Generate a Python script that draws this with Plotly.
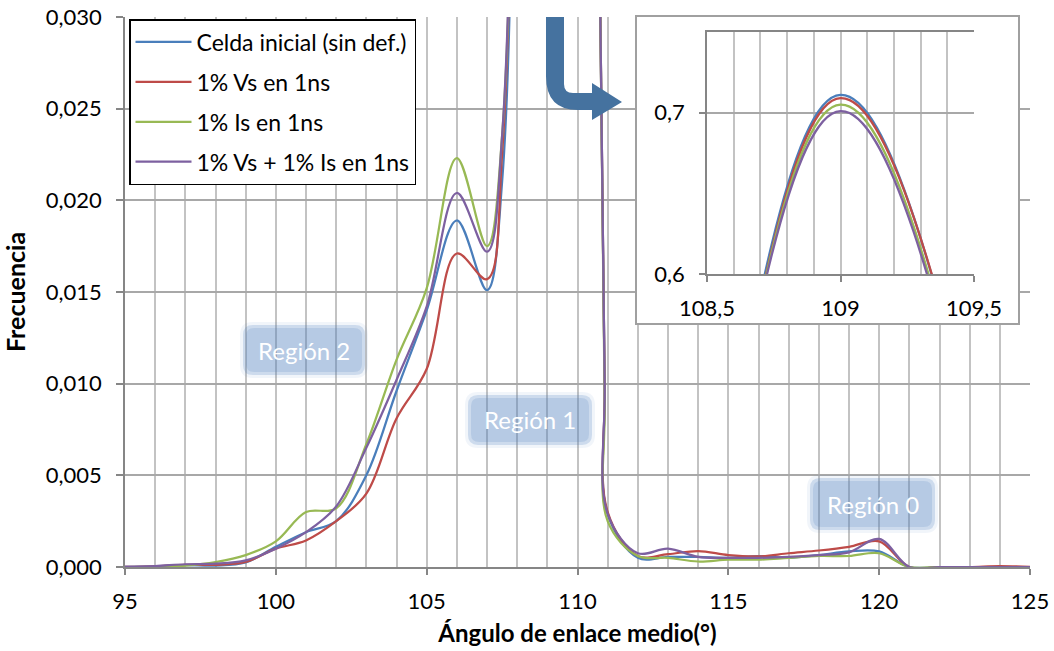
import plotly.graph_objects as go

# Mean bond angle (degrees) and frequency of each simulated cell
angle = [95, 96, 97, 98, 99, 100, 101, 102, 103, 104, 105, 106, 107, 107.5, 108,
         109, 110, 110.75, 110.9, 111, 112, 113, 114, 115, 116, 117, 118, 119, 120,
         121, 122, 123, 124, 125]

celda_inicial = [0.0, 0.00004, 0.0001, 0.00008, 0.00025, 0.0011, 0.0019, 0.0025, 0.0050,
                 0.0096, 0.0140, 0.0189, 0.0151, 0.0210, 0.075, 0.711, 0.220, 0.031,
                 0.010, 0.0029, 0.0005, 0.00055, 0.00055, 0.0005, 0.0006, 0.0005,
                 0.00065, 0.00085, 0.00085, 0.0, 0.0, 0.0, 0.0, 0.0]
vs_1 = [0.0, 0.00004, 0.00012, 0.00012, 0.00028, 0.0010, 0.00145, 0.0025, 0.0040,
        0.0081, 0.0108, 0.0171, 0.0157, 0.0225, 0.070, 0.709, 0.226, 0.031,
        0.010, 0.0030, 0.0006, 0.0007, 0.00087, 0.00065, 0.00058, 0.00075,
        0.0009, 0.0011, 0.0014, 0.0, 0.0, 0.0, 0.00005, 0.0]
is_1 = [0.0, 0.0, 0.00008, 0.00027, 0.00065, 0.0014, 0.0030, 0.0032, 0.0067,
        0.0113, 0.0152, 0.0223, 0.0175, 0.0235, 0.078, 0.705, 0.215, 0.031,
        0.009, 0.0025, 0.0006, 0.0005, 0.0003, 0.0004, 0.0004, 0.0005,
        0.0006, 0.0006, 0.00075, 0.0, 0.0, 0.0, 0.0, 0.0]
vs_is_1 = [0.0, 0.00005, 0.00015, 0.00018, 0.00036, 0.0010, 0.0019, 0.0033, 0.0065,
           0.0102, 0.0142, 0.0204, 0.0172, 0.0235, 0.082, 0.701, 0.214, 0.031,
           0.010, 0.0029, 0.00075, 0.0010, 0.00055, 0.0005, 0.0005, 0.00055,
           0.00065, 0.0008, 0.00153, 0.0, 0.0, 0.0, 0.0, 0.0]

series_names = ["Celda inicial (sin def.)", "1% Vs en 1ns", "1% Is en 1ns",
                "1% Vs + 1% Is en 1ns"]
series_values = [celda_inicial, vs_1, is_1, vs_is_1]
series_colors = ["#4a7ebb", "#be4b48", "#98b954", "#7d60a0"]

main_xticks = [95, 100, 105, 110, 115, 120, 125]
main_yticks = [0.0, 0.005, 0.010, 0.015, 0.020, 0.025, 0.030]
zoom_xticks = [108.5, 109, 109.5]
zoom_yticks = [0.6, 0.7]

region_labels = ["Región 2", "Región 1", "Región 0"]

FONT = "Lato"
W, H = 1054, 651
ML, MR, MT, MB = 125, 24, 17, 84
PW, PH = W - ML - MR, H - MT - MB


def fx(px):
    return (px - ML) / PW


def fy(py):
    return (H - MB - py) / PH


fig = go.Figure()

# main curves
for name, vals, col in zip(series_names, series_values, series_colors):
    fig.add_trace(go.Scatter(
        x=angle, y=vals, name=name, mode="lines",
        line=dict(color=col, width=2.25, shape="spline", smoothing=1),
        legendgroup=name, xaxis="x", yaxis="y",
    ))

# white panel that carries the zoomed view
fig.add_trace(go.Scatter(x=[], y=[], xaxis="x2", yaxis="y2", showlegend=False,
                         hoverinfo="skip"))

# zoomed curves around the maximum
for name, vals, col in zip(series_names, series_values, series_colors):
    fig.add_trace(go.Scatter(
        x=angle, y=vals, name=name, mode="lines", showlegend=False,
        line=dict(color=col, width=2.25, shape="spline", smoothing=1),
        legendgroup=name, xaxis="x3", yaxis="y3",
    ))

tick_font = dict(family=FONT, size=22, color="#000000")
axis_grey = "#868686"

fig.update_layout(
    width=W, height=H,
    margin=dict(l=ML, r=MR, t=MT, b=MB, autoexpand=False),
    paper_bgcolor="white", plot_bgcolor="white",
    separators=",.",
    font=dict(family=FONT, size=22, color="#000000"),
    showlegend=True,
    legend=dict(
        x=fx(129), y=fy(19), xanchor="left", yanchor="top",
        bgcolor="white", bordercolor="#000000", borderwidth=1.5,
        font=dict(family=FONT, size=23, color="#000000"),
        tracegroupgap=7, itemwidth=56,
    ),
    xaxis=dict(
        domain=[0, 1], range=[95, 125], tickvals=main_xticks,
        ticks="outside", ticklen=6, tickcolor=axis_grey, tickwidth=1.5,
        showline=True, linecolor=axis_grey, linewidth=2,
        showgrid=True, gridcolor="#c3c3c3", gridwidth=1.5,
        minor=dict(dtick=1, tick0=95, showgrid=True, gridcolor="#c3c3c3",
                   gridwidth=1.5),
        zeroline=False, tickfont=tick_font, ticklabelstandoff=8,
        title=dict(text="<b>Ángulo de enlace medio(°)</b>",
                   font=dict(family=FONT, size=24), standoff=12),
        fixedrange=True, automargin=False,
    ),
    yaxis=dict(
        domain=[0, 1], range=[0, 0.030], tickvals=main_yticks, tickformat=".3f",
        ticks="outside", ticklen=7, tickcolor=axis_grey, tickwidth=1.5,
        showline=True, linecolor=axis_grey, linewidth=1.5,
        showgrid=True, gridcolor="#a8a8a8", gridwidth=1.5,
        zeroline=False, tickfont=tick_font, ticklabelstandoff=10,
        title=dict(text="<b>Frecuencia</b>", font=dict(family=FONT, size=25),
                   standoff=18),
        fixedrange=True, automargin=False,
    ),
    xaxis2=dict(
        domain=[fx(637), fx(1018)], range=[0, 1], anchor="y2",
        showline=True, mirror=True, linecolor="#a0a0a0", linewidth=1.5,
        showgrid=False, zeroline=False, showticklabels=False, ticks="",
        fixedrange=True, automargin=False,
    ),
    yaxis2=dict(
        domain=[fy(323), 1.0], range=[0, 1], anchor="x2",
        showline=True, mirror=True, linecolor="#a0a0a0", linewidth=1.5,
        showgrid=False, zeroline=False, showticklabels=False, ticks="",
        fixedrange=True, automargin=False,
    ),
    xaxis3=dict(
        domain=[fx(707), fx(974)], range=[108.5, 109.5], anchor="y3",
        tickvals=zoom_xticks, ticks="outside", ticklen=6, tickcolor=axis_grey,
        tickwidth=1.5, showline=True, mirror=True, linecolor=axis_grey,
        linewidth=1.5, showgrid=True, gridcolor="#c3c3c3", gridwidth=1.5,
        minor=dict(dtick=0.1, tick0=108.5, showgrid=True, gridcolor="#c3c3c3",
                   gridwidth=1.5),
        zeroline=False, tickfont=tick_font, ticklabelstandoff=8,
        fixedrange=True, automargin=False,
    ),
    yaxis3=dict(
        domain=[fy(274), fy(32)], range=[0.6, 0.75], anchor="x3",
        tickvals=zoom_yticks, tickformat=".1f", ticks="outside", ticklen=6,
        tickcolor=axis_grey, tickwidth=1.5, showline=True, linecolor=axis_grey,
        linewidth=1.5, showgrid=True, gridcolor="#a8a8a8", gridwidth=1.5,
        zeroline=False, tickfont=tick_font, ticklabelstandoff=10,
        fixedrange=True, automargin=False,
    ),
)


def rounded_rect(x0, y0, x1, y1, r):
    """SVG path of a rounded rectangle given in pixels, returned in paper units."""
    pts = [
        ("M", [(x0 + r, y0)]),
        ("L", [(x1 - r, y0)]), ("Q", [(x1, y0), (x1, y0 + r)]),
        ("L", [(x1, y1 - r)]), ("Q", [(x1, y1), (x1 - r, y1)]),
        ("L", [(x0 + r, y1)]), ("Q", [(x0, y1), (x0, y1 - r)]),
        ("L", [(x0, y0 + r)]), ("Q", [(x0, y0), (x0 + r, y0)]),
    ]
    out = []
    for cmd, coords in pts:
        out.append(cmd + " " + " ".join(f"{fx(a):.5f},{fy(b):.5f}" for a, b in coords))
    return " ".join(out) + " Z"


# translucent labels of the three regions, with a faint halo for soft edges
region_boxes = [(243, 325, 365, 375), (468, 395, 592, 445), (810, 478, 935, 530)]
for label, (x0, y0, x1, y1) in zip(region_labels, region_boxes):
    fig.add_shape(type="path", xref="paper", yref="paper", layer="above",
                  path=rounded_rect(x0 - 3, y0 - 3, x1 + 3, y1 + 3, 13),
                  fillcolor="rgba(79,129,189,0.08)", line=dict(width=0))
    fig.add_shape(type="path", xref="paper", yref="paper", layer="above",
                  path=rounded_rect(x0, y0, x1, y1, 10),
                  fillcolor="rgba(79,129,189,0.22)", line=dict(width=0))
    fig.add_shape(type="path", xref="paper", yref="paper", layer="above",
                  path=rounded_rect(x0 + 3, y0 + 3, x1 - 3, y1 - 3, 8),
                  fillcolor="rgba(79,129,189,0.18)", line=dict(width=0))
    fig.add_annotation(x=fx((x0 + x1) / 2), y=fy((y0 + y1) / 2), xref="paper",
                       yref="paper", xanchor="center", yanchor="middle",
                       text=label, showarrow=False,
                       font=dict(family=FONT, size=24, color="white"))

# bent arrow pointing to the zoomed panel
arrow_pts = [(546, 17), (564, 17), (564, 84), "Q", (564, 93), (573, 93), (592, 93),
             (592, 83), (622, 102), (592, 120), (592, 110), (578, 110), "Q",
             (546, 110), (546, 76)]
parts = []
cmd = "M"
i = 0
while i < len(arrow_pts):
    p = arrow_pts[i]
    if p == "Q":
        a, b = arrow_pts[i + 1], arrow_pts[i + 2]
        parts.append(f"Q {fx(a[0]):.5f},{fy(a[1]):.5f} {fx(b[0]):.5f},{fy(b[1]):.5f}")
        i += 3
        continue
    parts.append(f"{cmd} {fx(p[0]):.5f},{fy(p[1]):.5f}")
    cmd = "L"
    i += 1
fig.add_shape(type="path", xref="paper", yref="paper", layer="above",
              path=" ".join(parts) + " Z", fillcolor="#45729f",
              line=dict(width=0))

fig.write_html("out.html")
